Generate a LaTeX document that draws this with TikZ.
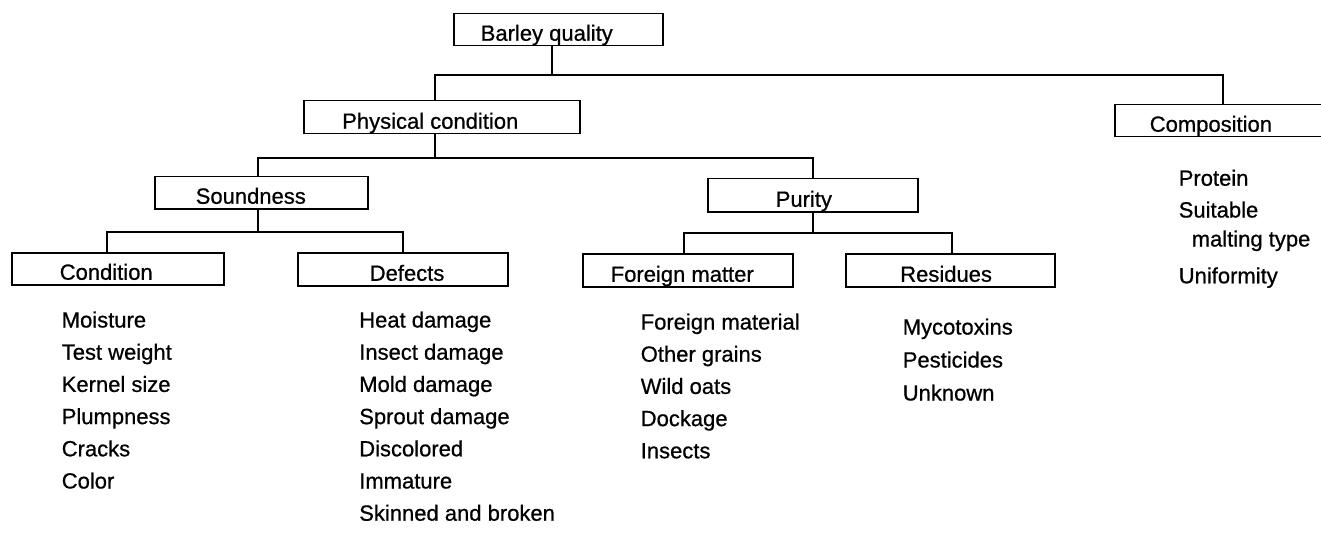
\documentclass[tikz,border=0pt]{standalone}
\usepackage{fontspec}
\setmainfont[FakeBold=0.7]{Liberation Sans}
\newcommand\dfont{\fontsize{22}{26}\selectfont}
\begin{document}
\begin{tikzpicture}[x=1pt,y=-1pt,line width=1.5pt,
  box/.style={draw,inner sep=0pt,anchor=north west,font=\dfont,text depth=5pt},
  item/.style={inner sep=0pt,anchor=base west,font=\dfont}]
\useasboundingbox (0,0) rectangle (1321,540);
% boxes
\node[box,text height=27.3pt] (bq) at (453,12.7) {\makebox[209pt][l]{\hspace*{27pt}Barley quality}};
\node[box,text height=28pt] (pc) at (303,100) {\makebox[276pt][l]{\hspace*{38.5pt}Physical condition}};
\node[box,text height=27pt] (cp) at (1114,104) {\makebox[221pt][l]{\hspace*{35pt}Composition}};
\node[box,text height=27pt] (sd) at (154,176) {\makebox[213pt][l]{\hspace*{41pt}Soundness}};
\node[box,text height=28pt] (pu) at (707,178) {\makebox[210pt][l]{\hspace*{68pt}Purity}};
\node[box,text height=27pt] (cd) at (11,252) {\makebox[212pt][l]{\hspace*{48pt}Condition}};
\node[box,text height=28pt] (df) at (297,252) {\makebox[210pt][l]{\hspace*{72pt}Defects}};
\node[box,text height=28pt] (fm) at (582,253) {\makebox[210pt][l]{\hspace*{28pt}Foreign matter}};
\node[box,text height=28pt] (rs) at (845,253) {\makebox[209pt][l]{\hspace*{54.5pt}Residues}};
% connectors
\coordinate (a1) at (552,75); \coordinate (l1) at (435,75); \coordinate (r1) at (1223,75);
\draw (bq.south -| a1) -- (a1);
\draw (pc.north -| l1) -- (l1) -- (r1) -- (cp.north -| r1);
\coordinate (a2) at (435,158); \coordinate (l2) at (258,158); \coordinate (r2) at (813,158);
\draw (pc.south -| a2) -- (a2);
\draw (sd.north -| l2) -- (l2) -- (r2) -- (pu.north -| r2);
\coordinate (a3) at (258,232); \coordinate (l3) at (107,232); \coordinate (r3) at (403,232);
\draw (sd.south -| a3) -- (a3);
\draw (cd.north -| l3) -- (l3) -- (r3) -- (df.north -| r3);
\coordinate (a4) at (813,233); \coordinate (l4) at (684,233); \coordinate (r4) at (952,233);
\draw (pu.south -| a4) -- (a4);
\draw (fm.north -| l4) -- (l4) -- (r4) -- (rs.north -| r4);
% items
\foreach \t [count=\i from 0] in {Moisture,Test weight,Kernel size,Plumpness,Cracks,Color}
  \node[item] (ci\i) at (61,{327.5+32.2*\i}) {\t};
\foreach \t [count=\i from 0] in {Heat damage,Insect damage,Mold damage,Sprout damage,Discolored,Immature,Skinned and broken}
  \node[item] (di\i) at (358.5,{327.5+32.2*\i}) {\t};
\foreach \t [count=\i from 0] in {Foreign material,Other grains,Wild oats,Dockage,Insects}
  \node[item] (fi\i) at (640,{329.5+32.2*\i}) {\t};
\foreach \t [count=\i from 0] in {Mycotoxins,Pesticides,Unknown}
  \node[item] (ri\i) at (902,{334.5+33*\i}) {\t};
\node[item] (co0) at (1178,185.7) {Protein};
\node[item] (co1) at (1178,217.5) {Suitable};
\node[item] (co2) at (1191,246.5) {malting type};
\node[item] (co3) at (1178,283.3) {Uniformity};
\end{tikzpicture}
\end{document}
